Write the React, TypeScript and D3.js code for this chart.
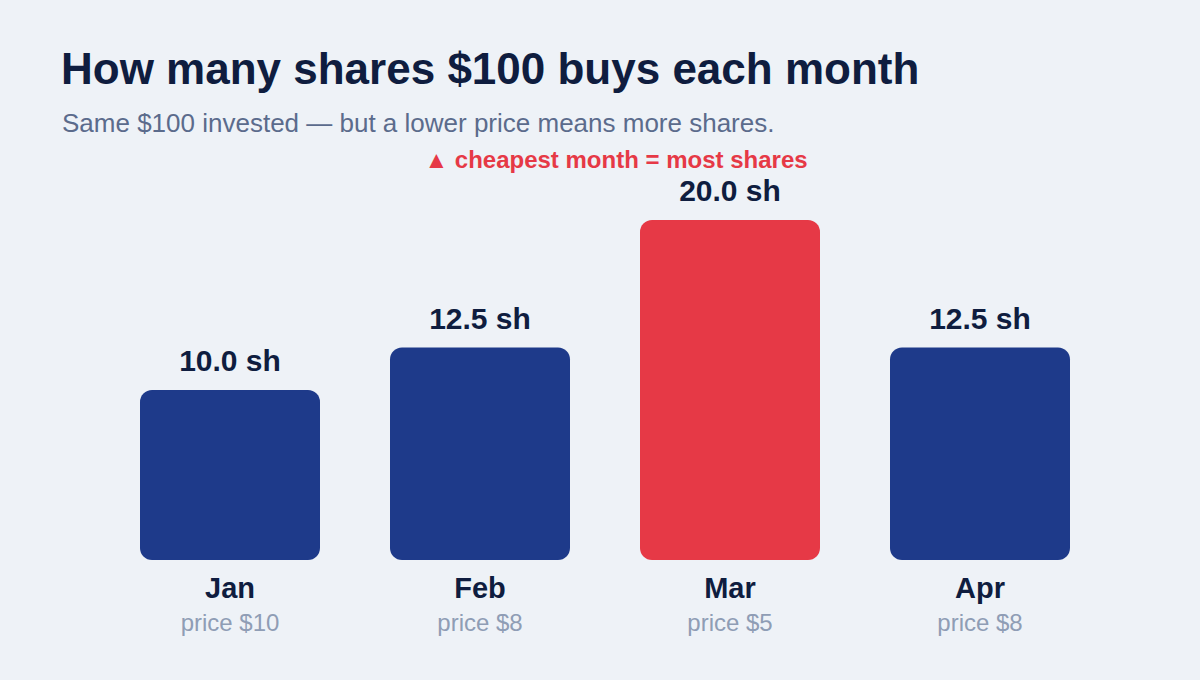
import * as d3 from "d3";

const width = 1200;
const height = 680;

const months = ["Jan", "Feb", "Mar", "Apr"];
const prices = [10, 8, 5, 8];
const shares = [10.0, 12.5, 20.0, 12.5];
const highlight = "Mar";

const bg = "#eef2f7";
const navy = "#0f1d3f";
const barBlue = "#1e3a8a";
const red = "#e63946";

const App = () => {
  const x = d3.scaleBand().domain(months).range([105, 1105]).paddingInner(0.28).paddingOuter(0.14);
  const y = d3.scaleLinear().domain([0, 20]).range([560, 220]);

  return (
    <svg
      width={width}
      height={height}
      style={{ display: "block", position: "absolute", left: 0, top: 0 }}
      fontFamily="'Liberation Sans', Arial, sans-serif"
    >
      <rect width={width} height={height} fill={bg} />
      <text x={61} y={84} fontSize={44} fontWeight="bold" fill={navy}>
        How many shares $100 buys each month
      </text>
      <text x={62} y={132} fontSize={26} fill="#5b6b8c">
        Same $100 invested — but a lower price means more shares.
      </text>
      <text x={616} y={168} fontSize={24} fontWeight="bold" fill={red} textAnchor="middle">
        ▲ cheapest month = most shares
      </text>
      {months.map((m, i) => {
        const bx = x(m) as number;
        const cx = bx + x.bandwidth() / 2;
        const top = y(shares[i]);
        return (
          <g key={m}>
            <rect
              x={bx}
              y={top}
              width={x.bandwidth()}
              height={y(0) - top}
              rx={12}
              fill={m === highlight ? red : barBlue}
            />
            <text x={cx} y={top - 19} fontSize={30} fontWeight="bold" fill={navy} textAnchor="middle">
              {d3.format(".1f")(shares[i])} sh
            </text>
            <text x={cx} y={598} fontSize={29} fontWeight="bold" fill={navy} textAnchor="middle">
              {m}
            </text>
            <text x={cx} y={631} fontSize={24} fill="#8f9db5" textAnchor="middle">
              price ${prices[i]}
            </text>
          </g>
        );
      })}
    </svg>
  );
};

export default App;
